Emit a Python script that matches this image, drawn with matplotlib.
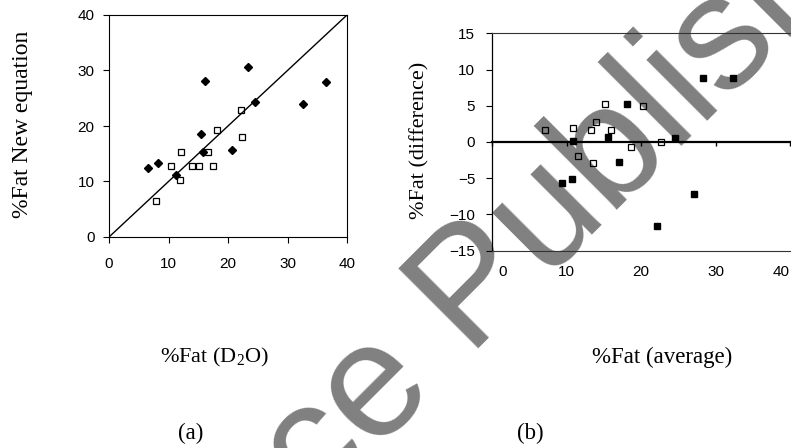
import numpy as np
import matplotlib
matplotlib.use('Agg')
import matplotlib.pyplot as plt
from matplotlib.transforms import ScaledTranslation

# Panel (a): %Fat from D2O against %Fat from the new equation
d2o_filled = [6.6, 8.3, 11.2, 15.5, 15.8, 16.2, 20.6, 23.4, 24.6, 32.6, 36.5]
neq_filled = [12.4, 13.4, 11.1, 18.6, 15.4, 28.1, 15.6, 30.6, 24.3, 23.9, 27.9]
d2o_open = [7.9, 10.4, 11.9, 12.1, 14.0, 15.2, 16.6, 17.5, 18.1, 22.2, 22.4]
neq_open = [6.5, 12.8, 10.3, 15.4, 12.8, 12.8, 15.4, 12.8, 19.2, 22.9, 18.1]

# Panel (b): difference against average
avg_filled = [9.4, 10.8, 10.9, 15.6, 17.0, 18.1, 22.2, 24.5, 27.1, 28.3, 32.3]
diff_filled = [-5.6, -5.1, 0.1, 0.7, -2.75, 5.2, -11.65, 0.55, -7.15, 8.9, 8.9]
avg_open = [7.1, 10.9, 11.5, 13.3, 13.6, 13.9, 15.2, 16.0, 18.6, 20.3, 22.7]
diff_open = [1.7, 2.0, -1.9, 1.6, -2.9, 2.7, 5.2, 1.6, -0.7, 5.0, 0.0]

ticks_a = [0, 10, 20, 30, 40]
ticks_by = [-15, -10, -5, 0, 5, 10, 15]

W, H = 791, 448
fig = plt.figure(figsize=(W / 100, H / 100), dpi=100)
fig.patch.set_facecolor('white')

sans = 'Liberation Sans'
serif = 'Liberation Serif'

# watermark, drawn behind the axes
fig.text(29 / W, 1 - 798 / H, 'Science Publishing', rotation=45,
         rotation_mode='anchor', ha='left', va='baseline', fontsize=117,
         family=sans, color='#808080', zorder=-1)

# ---- panel (a)
axa = fig.add_axes([109 / W, 1 - 237 / H, 238 / W, 222 / H])
axa.patch.set_alpha(0)
axa.plot([0, 40], [0, 40], color='black', lw=1)
axa.plot(d2o_filled, neq_filled, 'D', ms=4.5, color='black', ls='none')
axa.plot(d2o_open, neq_open, 's', ms=4.3, mfc='none', mec='black', mew=0.9, ls='none')
axa.set_xlim(0, 40)
axa.set_ylim(0, 40)
axa.set_xticks(ticks_a)
axa.set_yticks(ticks_a)
axa.tick_params(direction='out', length=4.5, width=0.8, labelsize=11)
axa.tick_params(axis='x', pad=10)
axa.tick_params(axis='y', pad=6)
for lab in axa.get_xticklabels() + axa.get_yticklabels():
    lab.set_family(sans)
for s in axa.spines.values():
    s.set_linewidth(0.8)

# ---- panel (b)
axb = fig.add_axes([492 / W, 1 - 250.7 / H, 298 / W, 217.4 / H])
axb.patch.set_alpha(0)
axb.plot(avg_filled, diff_filled, 's', ms=4.3, color='black', ls='none', zorder=3)
axb.plot(avg_open, diff_open, 's', ms=4.3, mfc='none', mec='black', mew=0.9,
         ls='none', zorder=3)
axb.set_xlim(0, 40)
axb.set_ylim(-15, 15)
axb.set_xticks(ticks_a)
axb.set_yticks(ticks_by)
axb.tick_params(axis='x', length=0, pad=10, labelsize=11)
axb.tick_params(axis='y', direction='out', length=4, width=0.8, pad=8, labelsize=11)
for lab in axb.get_xticklabels() + axb.get_yticklabels():
    lab.set_family(sans)
xl = axb.get_xticklabels()
xl[0].set_ha('left')
xl[0].set_transform(xl[0].get_transform() +
                    ScaledTranslation(0.06, 0, fig.dpi_scale_trans))
xl[-1].set_ha('right')
axb.spines['right'].set_visible(False)
axb.spines['left'].set_linewidth(0.9)
axb.spines['top'].set_color('#333333')
axb.spines['bottom'].set_color('#333333')
axb.spines['top'].set_linewidth(0.8)
axb.spines['bottom'].set_linewidth(0.8)

# zero line with its own small ticks
zero = axb.secondary_xaxis(0.5)
zero.set_xticks(ticks_a)
zero.xaxis.set_ticks_position('bottom')
zero.set_xticklabels([])
zero.tick_params(direction='out', length=3, width=1, labelbottom=False,
                 labeltop=False)
for s in zero.spines.values():
    s.set_linewidth(1.6)

# ---- labels
fig.text(23 / W, 1 - 124 / H, '%Fat New equation', rotation=90, ha='center',
         va='center', fontsize=17, family=serif)
fig.text(420 / W, 1 - 140 / H, '%Fat (difference)', rotation=90, ha='center',
         va='center', fontsize=16, family=serif)
fig.text(215 / W, 1 - 357 / H, r'%Fat (D$_\mathregular{2}$O)', ha='center',
         va='center', fontsize=16, family=serif)
fig.text(662 / W, 1 - 357 / H, '%Fat (average)', ha='center', va='center',
         fontsize=16.5, family=serif)
fig.text(191 / W, 1 - 433 / H, '(a)', ha='center', va='center', fontsize=16.5,
         family=serif)
fig.text(530 / W, 1 - 433 / H, '(b)', ha='center', va='center', fontsize=16.5,
         family=serif)

fig.savefig('out.png', dpi=100)
